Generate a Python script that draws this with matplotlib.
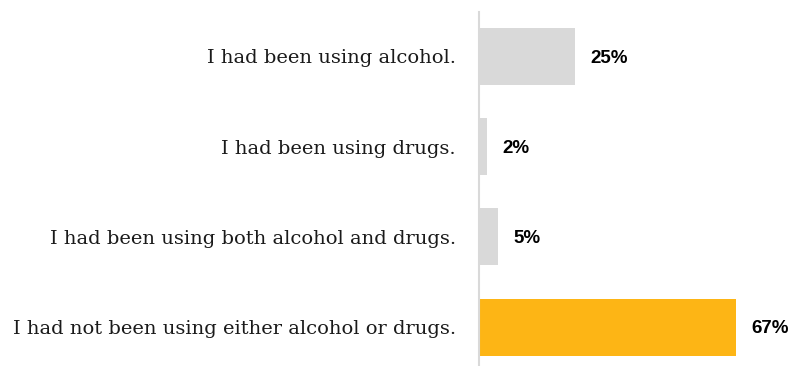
import matplotlib.pyplot as plt

categories = ["I had been using alcohol.",
              "I had been using drugs.",
              "I had been using both alcohol and drugs.",
              "I had not been using either alcohol or drugs."]
values = [25, 2, 5, 67]
bar_colors = ["#d9d9d9", "#d9d9d9", "#d9d9d9", "#fdb515"]

fig = plt.figure(figsize=(7.9, 3.66), dpi=100)
ax = fig.add_axes([479 / 790, 0.0, 305 / 790, 1 - 12 / 366])

ypos = list(range(len(categories)))
ax.barh(ypos, values, height=0.63, color=bar_colors)

for y, v in zip(ypos, values):
    ax.text(v + 4, y + 0.02, "%d%%" % v, va="center", ha="left",
            fontsize=13.5, fontweight="bold", family="Liberation Sans", color="#000000")

ax.set_yticks(ypos)
ax.set_yticklabels(categories, family="DejaVu Serif", fontsize=14, color="#1a1a1a")
ax.tick_params(axis="y", length=0, pad=16.5)
ax.set_xticks([])
ax.set_xlim(0, 79.5)
ax.set_ylim(3.43, -0.49)

for s in ["top", "right", "bottom"]:
    ax.spines[s].set_visible(False)
ax.spines["left"].set_color("#d9d9d9")
ax.spines["left"].set_linewidth(1.5)

plt.savefig("out.png", dpi=100)
